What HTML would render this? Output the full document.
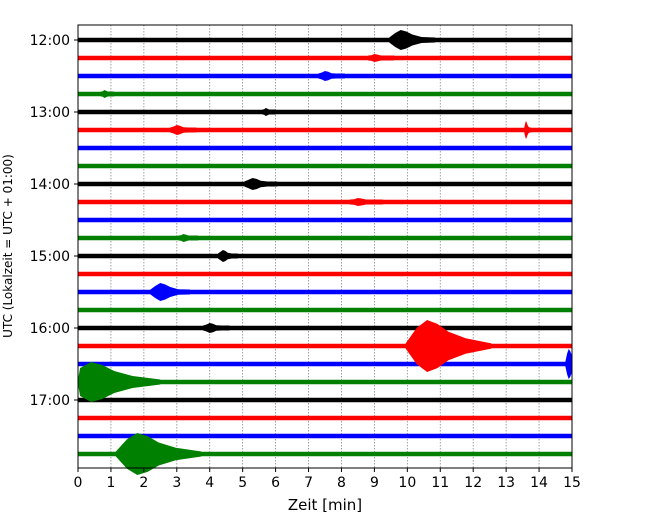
<!DOCTYPE html>
<html><head><meta charset="utf-8"><style>
body{margin:0;background:#fff;}
svg{display:block;font-family:"DejaVu Sans","Liberation Sans",sans-serif;}
</style></head><body>
<svg id="chart" width="650" height="520">
<rect x="78" y="25" width="494" height="443" fill="#fff"/>
<g id="grid"></g><g id="traces"></g><g id="events"></g><g id="axes"></g>
<text x="325" y="510" font-size="15" text-anchor="middle">Zeit  [min]</text>
<text transform="translate(12,246) rotate(-90)" font-size="12" text-anchor="middle">UTC (Lokalzeit = UTC + 01:00)</text>
</svg>
<script>
const xTicks=[0,1,2,3,4,5,6,7,8,9,10,11,12,13,14,15];
const yLabels=["12:00","13:00","14:00","15:00","16:00","17:00"];
const traceCount=24;
const colors=["#000000","#ff0000","#0000ff","#008000"];
const eventTrace=[0,2,3,5,5,8,11,12,14,16,17,18,19,23,1,9,4];
const eventTime=[9.8,7.5,0.8,3.0,13.6,5.3,3.2,4.4,2.5,4.0,10.6,14.9,0.4,1.8,9.0,8.5,5.7];
const eventAmp=[10,5,4,5,9,6,4,6,9,5,26,15,20,21,4,4,4];
const eventDur=[1.4,0.8,0.4,0.8,0.2,1.0,0.6,0.6,1.2,0.8,2.6,0.4,2.8,2.6,0.8,1.0,0.4];
const NS="http://www.w3.org/2000/svg";
const X0=78,X1=572,Y0=25,Y1=468;
const sx=t=>X0+(t-0)/(15-0)*(X1-X0);
const sy=i=>40+i*18;
const cx=x=>Math.min(X1,Math.max(X0,x));
function mk(tag,attrs,parent){const e=document.createElementNS(NS,tag);for(const k in attrs)e.setAttribute(k,attrs[k]);parent.appendChild(e);return e;}
const grid=document.getElementById('grid'),tr=document.getElementById('traces'),ev=document.getElementById('events'),ax=document.getElementById('axes');
xTicks.forEach(t=>{
 const g=mk('line',{x1:sx(t),x2:sx(t),y1:Y0,y2:Y1,stroke:'#888','stroke-width':0.8,'stroke-dasharray':'1.5,1.5'},grid);
 
 
 const tk=mk('line',{x1:sx(t),x2:sx(t),y1:Y1,y2:Y1+4,stroke:'#000'},ax);
 
 
 const l=mk('text',{x:sx(t),y:Y1+19,'font-size':14,'text-anchor':'middle'},ax);l.textContent=t;
 
 
});
for(let i=0;i<traceCount;i++){
 const l=mk('line',{x1:X0,x2:X1,y1:sy(i),y2:sy(i),stroke:colors[i%4],'stroke-width':4.5},tr);
 
 
}
yLabels.forEach((s,k)=>{
 const y=sy(k*4);
 const tk=mk('line',{x1:X0-4,x2:X0,y1:y,y2:y,stroke:'#000'},ax);
 
 
 const t=mk('text',{x:X0-8,y:y+5,'font-size':14,'text-anchor':'end'},ax);t.textContent=s;
 
 
});
eventTrace.forEach((i,k)=>{
 const y=sy(i),t=eventTime[k],a=eventAmp[k],d=eventDur[k];
 const prof=[[-0.25,0.1],[-0.12,0.7],[0,1],[0.12,0.85],[0.25,0.55],[0.45,0.3],[0.75,0.1]];
 const top=prof.map(p=>[cx(sx(t+d*p[0])),y-Math.max(2.5,a*p[1])]);
 const bot=prof.slice().reverse().map(p=>[cx(sx(t+d*p[0])),y+Math.max(2.5,a*p[1])]);
 const pts=top.concat(bot).map(p=>p.join(',')).join(' ');
 const p=mk('polygon',{points:pts,fill:colors[i%4]},ev);
 
 
});
const f=mk('rect',{x:X0,y:Y0,width:X1-X0,height:Y1-Y0,fill:'none',stroke:'#000','stroke-width':1},ax);


</script>
</body></html>
